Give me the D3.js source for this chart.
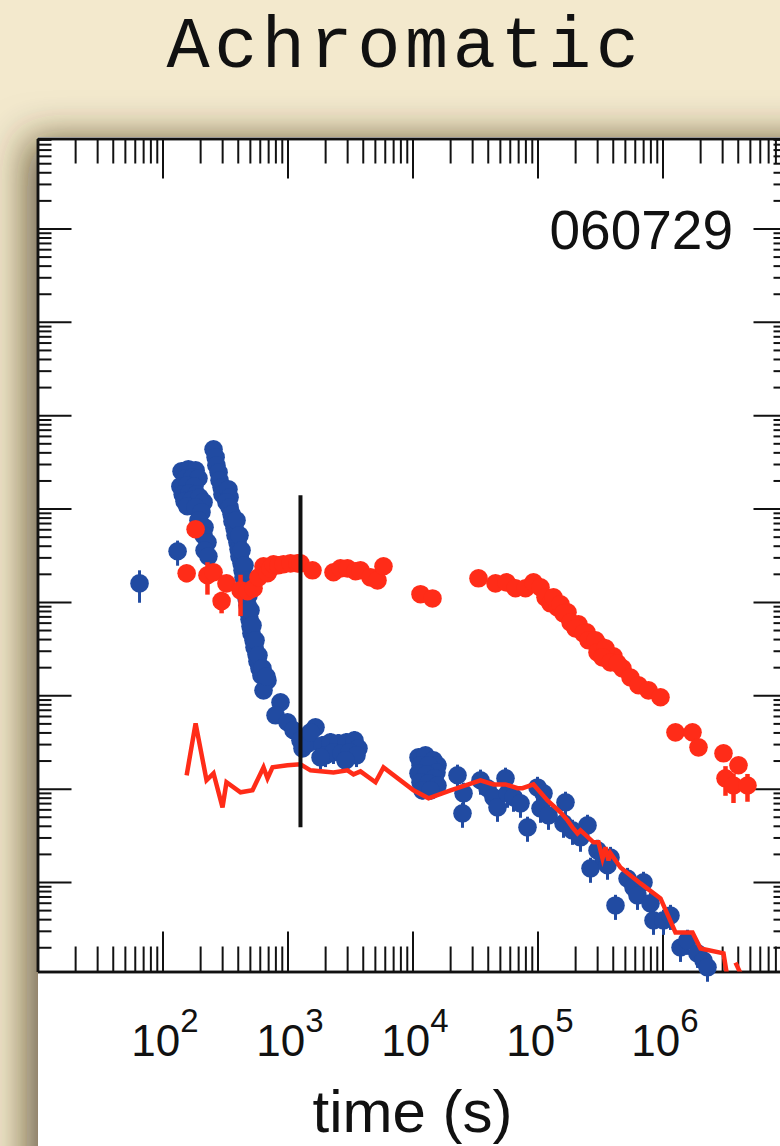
<!DOCTYPE html>
<html>
<head>
<meta charset="utf-8">
<script src="https://cdn.jsdelivr.net/npm/d3@7"></script>
<style>
  html, body { margin: 0; padding: 0; background: #f3e9cd; }
  svg { display: block; }
</style>
</head>
<body>
<svg id="chart" width="780" height="1146"></svg>
<script>
// ---- text ----
const title = "Achromatic";
const burstName = "060729";
const xLabel = "time (s)";
const xTickExponents = [2, 3, 4, 5, 6];

// ---- X-ray light curve: [time (s), flux, fractional error] ----
const xray = [
  [65.5, 1.58e-12, 0.38], [132, 3.49e-12, 0.3],
  [142, 2.51e-11, 0.12], [161, 2.64e-11, 0.12], [184, 2.57e-11, 0.12], [153, 2.11e-11, 0.12],
  [174, 2.16e-11, 0.12], [194, 2.11e-11, 0.12], [139, 1.73e-11, 0.12], [158, 1.78e-11, 0.12],
  [180, 1.73e-11, 0.12], [145, 1.42e-11, 0.12], [164, 1.46e-11, 0.12], [187, 1.42e-11, 0.12],
  [150, 1.20e-11, 0.12], [171, 1.23e-11, 0.12], [198, 1.32e-11, 0.12], [213, 1.17e-11, 0.12],
  [158, 1.06e-11, 0.12], [184, 1.03e-11, 0.12], [205, 9.13e-12, 0.12], [194, 7.49e-12, 0.15],
  [217, 6.30e-12, 0.15], [213, 5.17e-12, 0.15], [229, 4.35e-12, 0.15], [217, 3.57e-12, 0.15],
  [233, 3.08e-12, 0.15],
  [256, 4.32e-11, 0.1], [266, 3.55e-11, 0.1], [270, 2.91e-11, 0.1], [281, 2.45e-11, 0.1],
  [286, 2.01e-11, 0.1], [297, 1.69e-11, 0.1], [302, 1.42e-11, 0.1], [337, 1.61e-11, 0.1],
  [344, 1.32e-11, 0.1], [325, 1.17e-11, 0.1], [344, 1.03e-11, 0.1], [357, 8.69e-12, 0.1],
  [363, 7.31e-12, 0.1], [377, 6.15e-12, 0.1], [384, 5.17e-12, 0.1], [398, 4.35e-12, 0.1],
  [406, 3.66e-12, 0.1], [413, 3.08e-12, 0.1], [429, 2.59e-12, 0.1], [437, 2.18e-12, 0.1],
  [445, 1.83e-12, 0.1], [453, 1.54e-12, 0.1], [461, 1.30e-12, 0.1], [470, 1.09e-12, 0.1],
  [479, 9.20e-13, 0.1], [488, 7.74e-13, 0.1], [497, 6.51e-13, 0.1], [506, 5.48e-13, 0.1],
  [515, 4.61e-13, 0.1], [535, 3.88e-13, 0.1], [545, 3.26e-13, 0.1], [565, 2.74e-13, 0.1],
  [575, 2.31e-13, 0.1], [597, 1.94e-13, 0.1], [619, 1.63e-13, 0.1], [692, 1.44e-13, 0.1],
  [643, 1.13e-13, 0.1],
  [391, 7.49e-12, 0.1], [413, 5.17e-12, 0.1], [429, 3.57e-12, 0.1], [453, 2.47e-12, 0.1],
  [470, 1.70e-12, 0.1], [488, 1.18e-12, 0.1], [506, 8.13e-13, 0.1], [525, 5.61e-13, 0.1],
  [555, 3.88e-13, 0.1], [586, 2.68e-13, 0.1], [631, 1.94e-13, 0.1], [679, 1.59e-13, 0.1],
  [879, 8.41e-14, 0.15], [802, 6.10e-14, 0.15], [1000, 5.14e-14, 0.15], [1117, 4.22e-14, 0.15],
  [1270, 3.29e-14, 0.15], [1318, 2.70e-14, 0.15], [1472, 3.06e-14, 0.15], [1675, 4.54e-14, 0.15],
  [1528, 4.01e-14, 0.15],
  [1905, 2.91e-14, 0.25], [2208, 3.13e-14, 0.25], [2559, 3.06e-14, 0.25], [2965, 3.13e-14, 0.25],
  [3435, 3.29e-14, 0.25], [3698, 2.70e-14, 0.25], [2014, 2.27e-14, 0.25], [2333, 2.45e-14, 0.25],
  [2704, 2.39e-14, 0.25], [3133, 2.45e-14, 0.25], [3565, 2.27e-14, 0.25], [1837, 2.16e-14, 0.25],
  [2911, 2.01e-14, 0.25],
  [11170, 2.16e-14, 0.2], [12700, 2.27e-14, 0.2], [14720, 2.01e-14, 0.2], [15850, 1.78e-14, 0.2],
  [11590, 1.78e-14, 0.2], [13430, 1.78e-14, 0.2], [15560, 1.49e-14, 0.2], [11170, 1.46e-14, 0.2],
  [12940, 1.42e-14, 0.2], [15000, 1.29e-14, 0.2], [11590, 1.17e-14, 0.2], [13430, 1.14e-14, 0.2],
  [15850, 1.08e-14, 0.2], [12020, 9.59e-15, 0.2], [13930, 9.59e-15, 0.2],
  [22910, 1.39e-14, 0.3], [25590, 8.91e-15, 0.3], [25120, 5.44e-15, 0.3], [34990, 1.23e-14, 0.3],
  [39810, 1.01e-14, 0.3], [44460, 8.07e-15, 0.3], [47860, 6.30e-15, 0.3], [55460, 1.29e-14, 0.3],
  [57540, 8.91e-15, 0.3], [64270, 8.07e-15, 0.3], [73110, 6.96e-15, 0.3], [83180, 3.85e-15, 0.3],
  [1.00e5, 1.03e-14, 0.3], [1.117e5, 8.91e-15, 0.3], [1.057e5, 6.15e-15, 0.3], [1.225e5, 5.17e-15, 0.3],
  [1.675e5, 7.13e-15, 0.3], [1.614e5, 4.25e-15, 0.3], [1.905e5, 3.57e-15, 0.3], [2.208e5, 3.01e-15, 0.3],
  [2.512e5, 4.04e-15, 0.3], [2.655e5, 1.40e-15, 0.3], [3.02e5, 2.18e-15, 0.3], [3.373e5, 1.83e-15, 0.3],
  [3.837e5, 1.83e-15, 0.3], [3.631e5, 1.51e-15, 0.3], [4.207e5, 5.61e-16, 0.3], [5.248e5, 1.09e-15, 0.3],
  [5.861e5, 8.75e-16, 0.3], [7.047e5, 9.90e-16, 0.3], [6.31e5, 7.18e-16, 0.3], [8.017e5, 5.90e-16, 0.3],
  [8.472e5, 3.88e-16, 0.3], [1.019e6, 3.88e-16, 0.3], [1.159e6, 4.38e-16, 0.3], [1.393e6, 1.99e-16, 0.3],
  [1.585e6, 2.37e-16, 0.3], [1.905e6, 1.72e-16, 0.3], [2.128e6, 1.44e-16, 0.3], [2.291e6, 1.22e-16, 0.3]
];

// ---- optical light curve: [time (s), flux, fractional error] ----
const optical = [
  [184, 6.00e-12, 0.08], [156, 2.03e-12, 0.2], [229, 1.93e-12, 0.38], [256, 2.08e-12, 0.1],
  [325, 1.58e-12, 0.1], [297, 1.02e-12, 0.26], [421, 1.33e-12, 0.47], [479, 1.30e-12, 0.12],
  [535, 1.40e-12, 0.1], [586, 1.83e-12, 0.08], [643, 2.41e-12, 0.08], [692, 2.03e-12, 0.08],
  [731, 2.29e-12, 0.08], [773, 2.53e-12, 0.08], [847, 2.47e-12, 0.08], [929, 2.53e-12, 0.08],
  [1057, 2.59e-12, 0.08], [1202, 2.59e-12, 0.08], [1270, 2.59e-12, 0.08], [1585, 2.18e-12, 0.08],
  [2333, 2.08e-12, 0.08], [2655, 2.29e-12, 0.08], [3020, 2.29e-12, 0.08], [3499, 2.13e-12, 0.08],
  [3837, 2.18e-12, 0.08], [4613, 1.83e-12, 0.08], [5248, 1.70e-12, 0.08], [5861, 2.41e-12, 0.08],
  [11590, 1.21e-12, 0.08], [14450, 1.09e-12, 0.08], [33730, 1.79e-12, 0.08], [46130, 1.58e-12, 0.08],
  [56490, 1.62e-12, 0.08], [66690, 1.40e-12, 0.08], [80170, 1.40e-12, 0.08], [92900, 1.62e-12, 0.08],
  [1.057e5, 1.43e-12, 0.08], [1.159e5, 1.12e-12, 0.08], [1.27e5, 9.66e-13, 0.08], [1.445e5, 8.75e-13, 0.08],
  [1.343e5, 1.12e-12, 0.08], [1.528e5, 9.43e-13, 0.08], [1.738e5, 7.74e-13, 0.08], [2.128e5, 5.75e-13, 0.08],
  [2.466e5, 4.72e-13, 0.08], [3.192e5, 3.34e-13, 0.08], [4.055e5, 2.61e-13, 0.08], [4.786e5, 1.94e-13, 0.08],
  [1.614e5, 7.55e-13, 0.08], [1.837e5, 6.04e-13, 0.08], [2.014e5, 5.21e-13, 0.08], [2.333e5, 4.61e-13, 0.08],
  [2.559e5, 3.88e-13, 0.08], [2.911e5, 3.88e-13, 0.08], [3.02e5, 2.88e-13, 0.08], [3.499e5, 3.18e-13, 0.08],
  [3.311e5, 2.55e-13, 0.08], [3.837e5, 2.25e-13, 0.08], [4.365e5, 2.20e-13, 0.08], [5.546e5, 1.55e-13, 0.08],
  [6.427e5, 1.28e-13, 0.08], [7.727e5, 1.13e-13, 0.08], [9.638e5, 9.52e-14, 0.08], [1.27e6, 4.01e-14, 0.1],
  [1.738e6, 4.01e-14, 0.1], [1.941e6, 2.77e-14, 0.1], [3.076e6, 2.39e-14, 0.15], [4.055e6, 1.78e-14, 0.15],
  [3.192e6, 1.29e-14, 0.35], [3.698e6, 1.08e-14, 0.35], [4.786e6, 1.08e-14, 0.33]
];

// ---- optical-band model curve: [time (s), flux]; null marks a break ----
const opticalModel = [
  [156, 1.39e-14], [184, 5.01e-14], [225, 1.23e-14], [256, 1.46e-14], [302, 6.30e-15],
  [325, 1.17e-14], [421, 9.13e-15], [525, 9.59e-15], [643, 1.69e-14], [692, 1.29e-14],
  [759, 1.69e-14], [1000, 1.78e-14], [1270, 1.82e-14], [1528, 1.57e-14], [2333, 1.49e-14],
  [3020, 1.57e-14], [3373, 1.42e-14], [3837, 1.53e-14], [5058, 1.17e-14], [5861, 1.69e-14],
  [10190, 9.59e-15], [13430, 7.87e-15], [20140, 9.59e-15], [34990, 1.23e-14], [44460, 1.11e-14],
  [55460, 1.11e-14], [69180, 1.01e-14], [75860, 1.01e-14], [92900, 1.11e-14], [1.202e5, 7.49e-15],
  [1.528e5, 5.57e-15], [1.738e5, 4.57e-15], [1.905e5, 3.85e-15], [2.089e5, 3.32e-15], [2.208e5, 3.57e-15],
  [2.805e5, 2.66e-15], [3.076e5, 2.66e-15], [3.311e5, 1.79e-15], [3.499e5, 2.35e-15], [3.698e5, 1.70e-15],
  [3.837e5, 2.03e-15], [4.613e5, 1.43e-15], [6.669e5, 9.66e-16], [9.638e5, 6.67e-16], [1.27e6, 2.88e-16],
  [1.738e6, 2.88e-16], [2.014e6, 1.94e-16], [3.076e6, 1.72e-16], [3.435e6, 6.9e-17], null,
  [3.837e6, 1.37e-16], [4.875e6, 6.9e-17]
];

// ---- break epoch marker ----
const breakTime = 1270;
const breakSpan = [3.85e-15, 1.39e-11];

// ---- layout ----
const blue = "#214ba2";
const red = "#ff2c18";
const markR = 9.3;
const svg = d3.select("#chart");
const defs = svg.append("defs");

const shadow = defs.append("filter").attr("id", "panelShadow")
  .attr("x", "-20%").attr("y", "-20%").attr("width", "140%").attr("height", "140%");
shadow.append("feGaussianBlur").attr("in", "SourceAlpha").attr("stdDeviation", 20).attr("result", "blur");
shadow.append("feOffset").attr("in", "blur").attr("dx", -12).attr("dy", 2).attr("result", "off");
shadow.append("feFlood").attr("flood-color", "#3b2c10").attr("flood-opacity", 0.72);
shadow.append("feComposite").attr("in2", "off").attr("operator", "in").attr("result", "sh");
const merge = shadow.append("feMerge");
merge.append("feMergeNode").attr("in", "sh");
merge.append("feMergeNode").attr("in", "SourceGraphic");

svg.append("rect").attr("width", 780).attr("height", 1146).attr("fill", "#f3e9cd");
svg.append("rect").attr("x", 38).attr("y", 137).attr("width", 800).attr("height", 1100)
  .attr("fill", "#ffffff").attr("filter", "url(#panelShadow)");

svg.append("text").attr("x", 405).attr("y", 67)
  .attr("text-anchor", "middle")
  .attr("font-family", "'Liberation Mono', 'Courier New', monospace")
  .attr("font-size", 72).attr("letter-spacing", 4.5).attr("fill", "#111")
  .text(title);

const x = d3.scaleLog().domain([10, 1e7]).range([37.5, 787.5]);
const y = d3.scaleLog().domain([1.1e-16, 9.2e-8]).range([971.5, 138.5]);

const isMajor = v => Math.abs(Math.log10(v) - Math.round(Math.log10(v))) < 1e-6;
const xMinor = x.ticks().filter(v => !isMajor(v));
const xMajor = x.ticks().filter(isMajor);
const yMinor = y.ticks().filter(v => !isMajor(v));
const yMajor = y.ticks().filter(isMajor);

function styleAxis(g) {
  g.selectAll(".domain").attr("stroke", "#111").attr("stroke-width", 2.5);
  g.selectAll(".tick line").attr("stroke", "#111").attr("stroke-width", 2);
  g.selectAll(".tick text").remove();
}
const axesG = svg.append("g");
function addAxis(axisFn, scale, values, size, transform) {
  axesG.append("g").attr("transform", transform)
    .call(axisFn(scale).tickValues(values).tickSizeInner(-size).tickSizeOuter(0).tickFormat(""))
    .call(styleAxis);
}
addAxis(d3.axisBottom, x, xMinor, 25, `translate(0,${y.range()[0]})`);
addAxis(d3.axisBottom, x, xMajor, 40, `translate(0,${y.range()[0]})`);
addAxis(d3.axisTop, x, xMinor, 25, `translate(0,${y.range()[1]})`);
addAxis(d3.axisTop, x, xMajor, 40, `translate(0,${y.range()[1]})`);
addAxis(d3.axisLeft, y, yMinor, 14, `translate(${x.range()[0]},0)`);
addAxis(d3.axisLeft, y, yMajor, 34, `translate(${x.range()[0]},0)`);
addAxis(d3.axisRight, y, yMinor, 14, `translate(${x.range()[1]},0)`);
addAxis(d3.axisRight, y, yMajor, 34, `translate(${x.range()[1]},0)`);

// x tick labels as powers of ten
const labelFont = "'Liberation Sans', Arial, Helvetica, sans-serif";
xTickExponents.forEach(e => {
  const t = svg.append("text")
    .attr("x", x(Math.pow(10, e)) + 2.5).attr("y", 1056)
    .attr("text-anchor", "middle").attr("font-family", labelFont).attr("fill", "#111");
  t.append("tspan").attr("font-size", 44).text("10");
  t.append("tspan").attr("font-size", 33).attr("dy", -24).text(String(e));
});
svg.append("text").attr("x", (x.range()[0] + x.range()[1]) / 2).attr("y", 1132)
  .attr("text-anchor", "middle").attr("font-family", labelFont)
  .attr("font-size", 60).attr("fill", "#111").text(xLabel);

svg.append("text").attr("x", 733).attr("y", 249)
  .attr("text-anchor", "end").attr("font-family", labelFont)
  .attr("font-size", 55).attr("fill", "#111").text(burstName);

// clip region for the model curve
defs.append("clipPath").attr("id", "plotClip").append("rect")
  .attr("x", x.range()[0]).attr("y", y.range()[1])
  .attr("width", x.range()[1] - x.range()[0]).attr("height", y.range()[0] - y.range()[1]);

function drawSeries(data, color, barWidth) {
  const g = svg.append("g");
  g.selectAll("line").data(data).join("line")
    .attr("x1", d => x(d[0])).attr("x2", d => x(d[0]))
    .attr("y1", d => y(d[1] * (1 + d[2]))).attr("y2", d => y(d[1] * (1 - d[2])))
    .attr("stroke", color).attr("stroke-width", barWidth);
  g.selectAll("circle").data(data).join("circle")
    .attr("cx", d => x(d[0])).attr("cy", d => y(d[1])).attr("r", markR)
    .attr("fill", color);
}
drawSeries(xray, blue, 3);
drawSeries(optical, red, 4.5);

const line = d3.line().defined(d => d !== null).x(d => x(d[0])).y(d => y(d[1]));
svg.append("path").datum(opticalModel)
  .attr("clip-path", "url(#plotClip)")
  .attr("d", line).attr("fill", "none")
  .attr("stroke", red).attr("stroke-width", 4.5).attr("stroke-linejoin", "miter");

svg.append("line")
  .attr("x1", x(breakTime)).attr("x2", x(breakTime))
  .attr("y1", y(breakSpan[1])).attr("y2", y(breakSpan[0]))
  .attr("stroke", "#111").attr("stroke-width", 4);
</script>
</body>
</html>
